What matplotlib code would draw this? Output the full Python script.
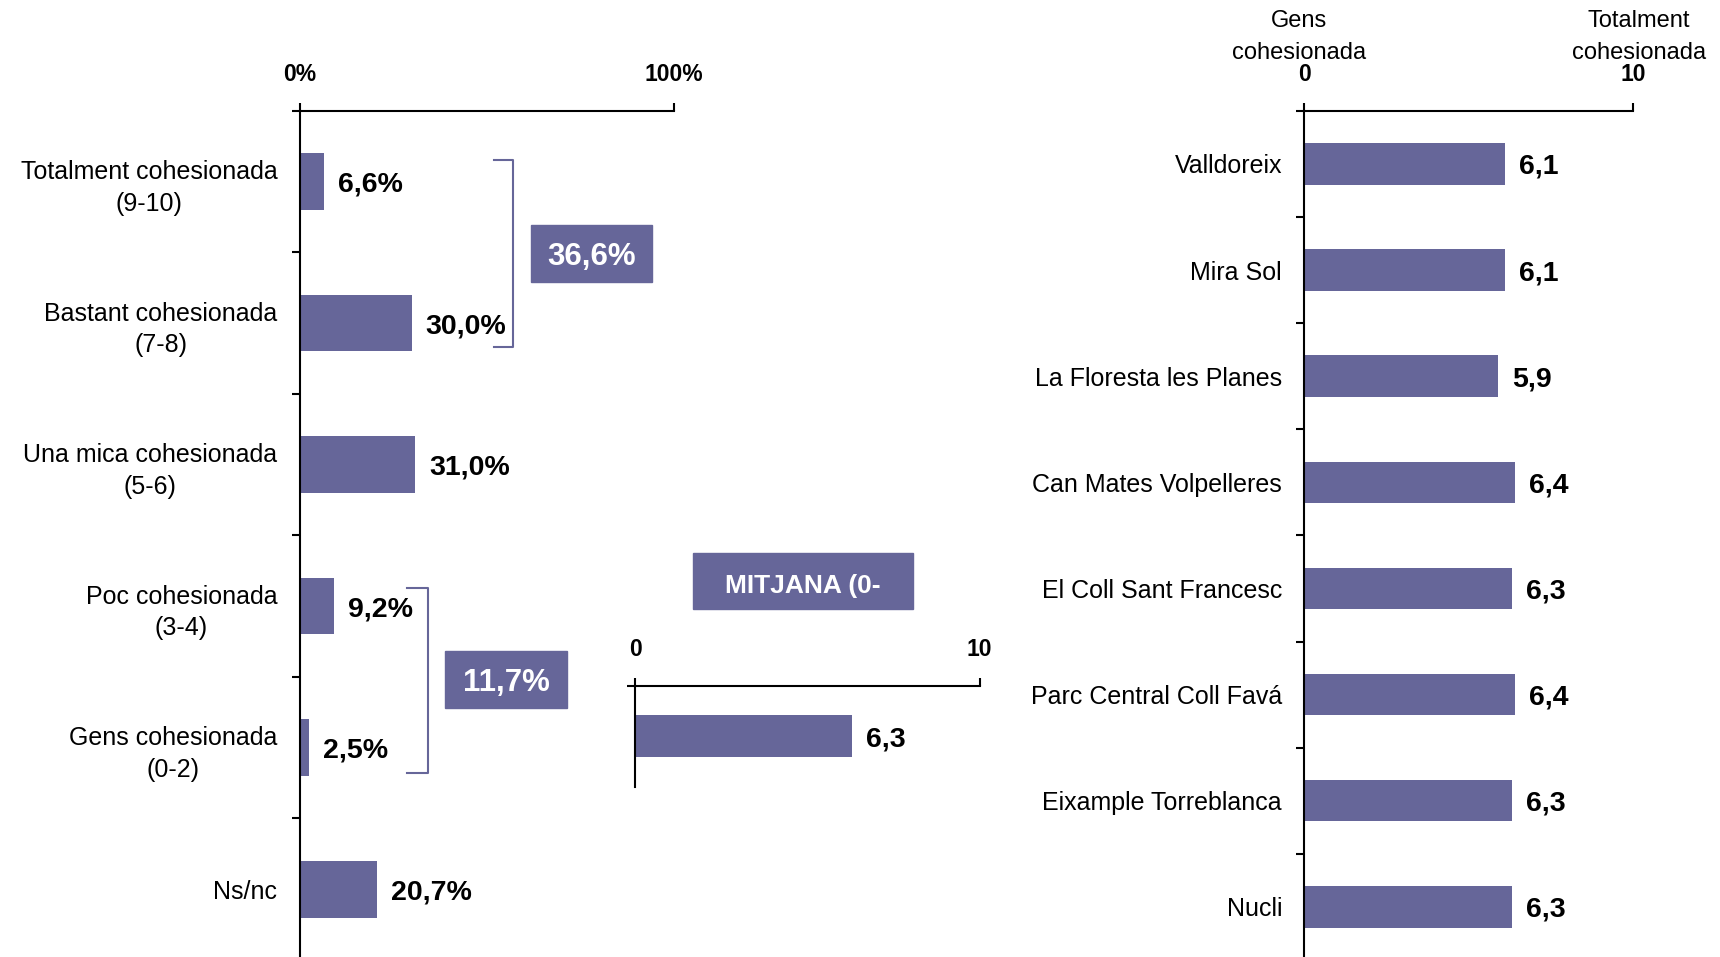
import matplotlib
matplotlib.use("Agg")
import matplotlib.pyplot as plt
from matplotlib.patches import Rectangle
from matplotlib.lines import Line2D

plt.rcParams['font.family'] = ['Liberation Sans', 'DejaVu Sans']

# ---------------- data ----------------
left_categories = ["Totalment cohesionada\n(9-10)", "Bastant cohesionada\n(7-8)",
                   "Una mica cohesionada\n(5-6)", "Poc cohesionada\n(3-4)",
                   "Gens cohesionada\n(0-2)", "Ns/nc"]
left_values = [6.6, 30.0, 31.0, 9.2, 2.5, 20.7]
left_labels = ["6,6%", "30,0%", "31,0%", "9,2%", "2,5%", "20,7%"]
left_ticks = [0, 100]
left_ticklabels = ["0%", "100%"]

group_labels = ["36,6%", "11,7%"]

mean_value = [6.3]
mean_label = ["6,3"]
mean_title = "MITJANA (0-"
mid_ticks = [0, 10]
mid_ticklabels = ["0", "10"]

right_categories = ["Valldoreix", "Mira Sol", "La Floresta les Planes",
                    "Can Mates Volpelleres", "El Coll Sant Francesc",
                    "Parc Central Coll Favá", "Eixample Torreblanca", "Nucli"]
right_values = [6.1, 6.1, 5.9, 6.4, 6.3, 6.4, 6.3, 6.3]
right_labels = ["6,1", "6,1", "5,9", "6,4", "6,3", "6,4", "6,3", "6,3"]
right_ticks = [0, 10]
right_ticklabels = ["0", "10"]
right_header = ["Gens\ncohesionada", "Totalment\ncohesionada"]

BAR = "#666699"
W, H = 1720, 957
fig = plt.figure(figsize=(W / 100, H / 100), dpi=100)


def ax_px(x0, x1, ytop, ybot):
    return fig.add_axes([x0 / W, 1 - ybot / H, (x1 - x0) / W, (ybot - ytop) / H])


def style(ax, n, xmax, ticks, ticklabels):
    ax.set_xlim(0, xmax)
    ax.set_ylim(n - 0.5, -0.5)
    for s in ["right", "bottom"]:
        ax.spines[s].set_visible(False)
    for s in ["top", "left"]:
        ax.spines[s].set_linewidth(1.5)
    ax.xaxis.tick_top()
    ax.set_xticks(ticks)
    ax.set_xticklabels(ticklabels, fontsize=16.5, fontweight="bold")
    ax.tick_params(axis="x", direction="out", length=6, width=1.5, pad=12)
    ax.set_yticks(range(n))
    ax.set_yticks([i - 0.5 for i in range(n)], minor=True)
    ax.tick_params(axis="y", which="major", length=0, pad=16)
    ax.tick_params(axis="y", which="minor", direction="out", length=6, width=1.5)
    ax.patch.set_alpha(0)


# ---------------- left panel ----------------
axL = ax_px(299.5, 673.6, 110.8, 960)
n = len(left_categories)
axL.barh(range(n), left_values, height=0.4, color=BAR)
style(axL, n, 100, left_ticks, left_ticklabels)
axL.set_yticklabels(left_categories, fontsize=18, multialignment="center",
                    linespacing=1.4)
for i, (v, t) in enumerate(zip(left_values, left_labels)):
    axL.annotate(t, (v, i), xytext=(10, 0), textcoords="offset points",
                 ha="left", va="center_baseline", fontsize=20.5,
                 fontweight="bold")

# brackets and group boxes
def bracket(ax, x0, x1, y0, y1):
    ax.add_line(Line2D([x0, x1, x1, x0], [y0, y0, y1, y1], color=BAR, lw=1.5,
                       clip_on=False))

bracket(axL, 51.9, 57.2, -0.15, 1.17)
axL.add_patch(Rectangle((61.9, 0.31), 32.2, 0.40, color=BAR, clip_on=False))
axL.text(78.0, 0.51, group_labels[0], ha="center", va="center_baseline",
         color="white", fontsize=22.5, fontweight="bold")
bracket(axL, 28.8, 34.3, 2.87, 4.18)
axL.add_patch(Rectangle((39.0, 3.32), 32.5, 0.40, color=BAR, clip_on=False))
axL.text(55.25, 3.52, group_labels[1], ha="center", va="center_baseline",
         color="white", fontsize=22.5, fontweight="bold")

# ---------------- middle panel ----------------
axM = ax_px(635.2, 979.6, 685.6, 786.6)
axM.barh([0], mean_value, height=0.41, color=BAR)
style(axM, 1, 10, mid_ticks, mid_ticklabels)
axM.set_yticks([])
axM.set_yticks([-0.5], minor=True)
axM.annotate(mean_label[0], (mean_value[0], 0), xytext=(10, 0),
             textcoords="offset points", ha="left", va="center_baseline",
             fontsize=20.5, fontweight="bold")

fig.patches.append(Rectangle((693 / W, 1 - 609 / H), 220 / W, 56 / H,
                             transform=fig.transFigure, color=BAR))
fig.text(803 / W, 1 - 583 / H, mean_title, ha="center", va="center_baseline",
         color="white", fontsize=19, fontweight="bold")

# ---------------- right panel ----------------
axR = ax_px(1304.3, 1633.4, 110.8, 960)
m = len(right_categories)
axR.barh(range(m), right_values, height=0.39, color=BAR)
style(axR, m, 10, right_ticks, right_ticklabels)
axR.set_yticklabels(right_categories, fontsize=18)
for i, (v, t) in enumerate(zip(right_values, right_labels)):
    axR.annotate(t, (v, i), xytext=(10, 0), textcoords="offset points",
                 ha="left", va="center_baseline", fontsize=20.5,
                 fontweight="bold")

fig.text(1299 / W, 1 - 37 / H, right_header[0], ha="center", va="center",
         fontsize=17, linespacing=1.6)
fig.text(1639 / W, 1 - 37 / H, right_header[1], ha="center", va="center",
         fontsize=17, linespacing=1.6)

fig.savefig("out.png", dpi=100, facecolor="white")
